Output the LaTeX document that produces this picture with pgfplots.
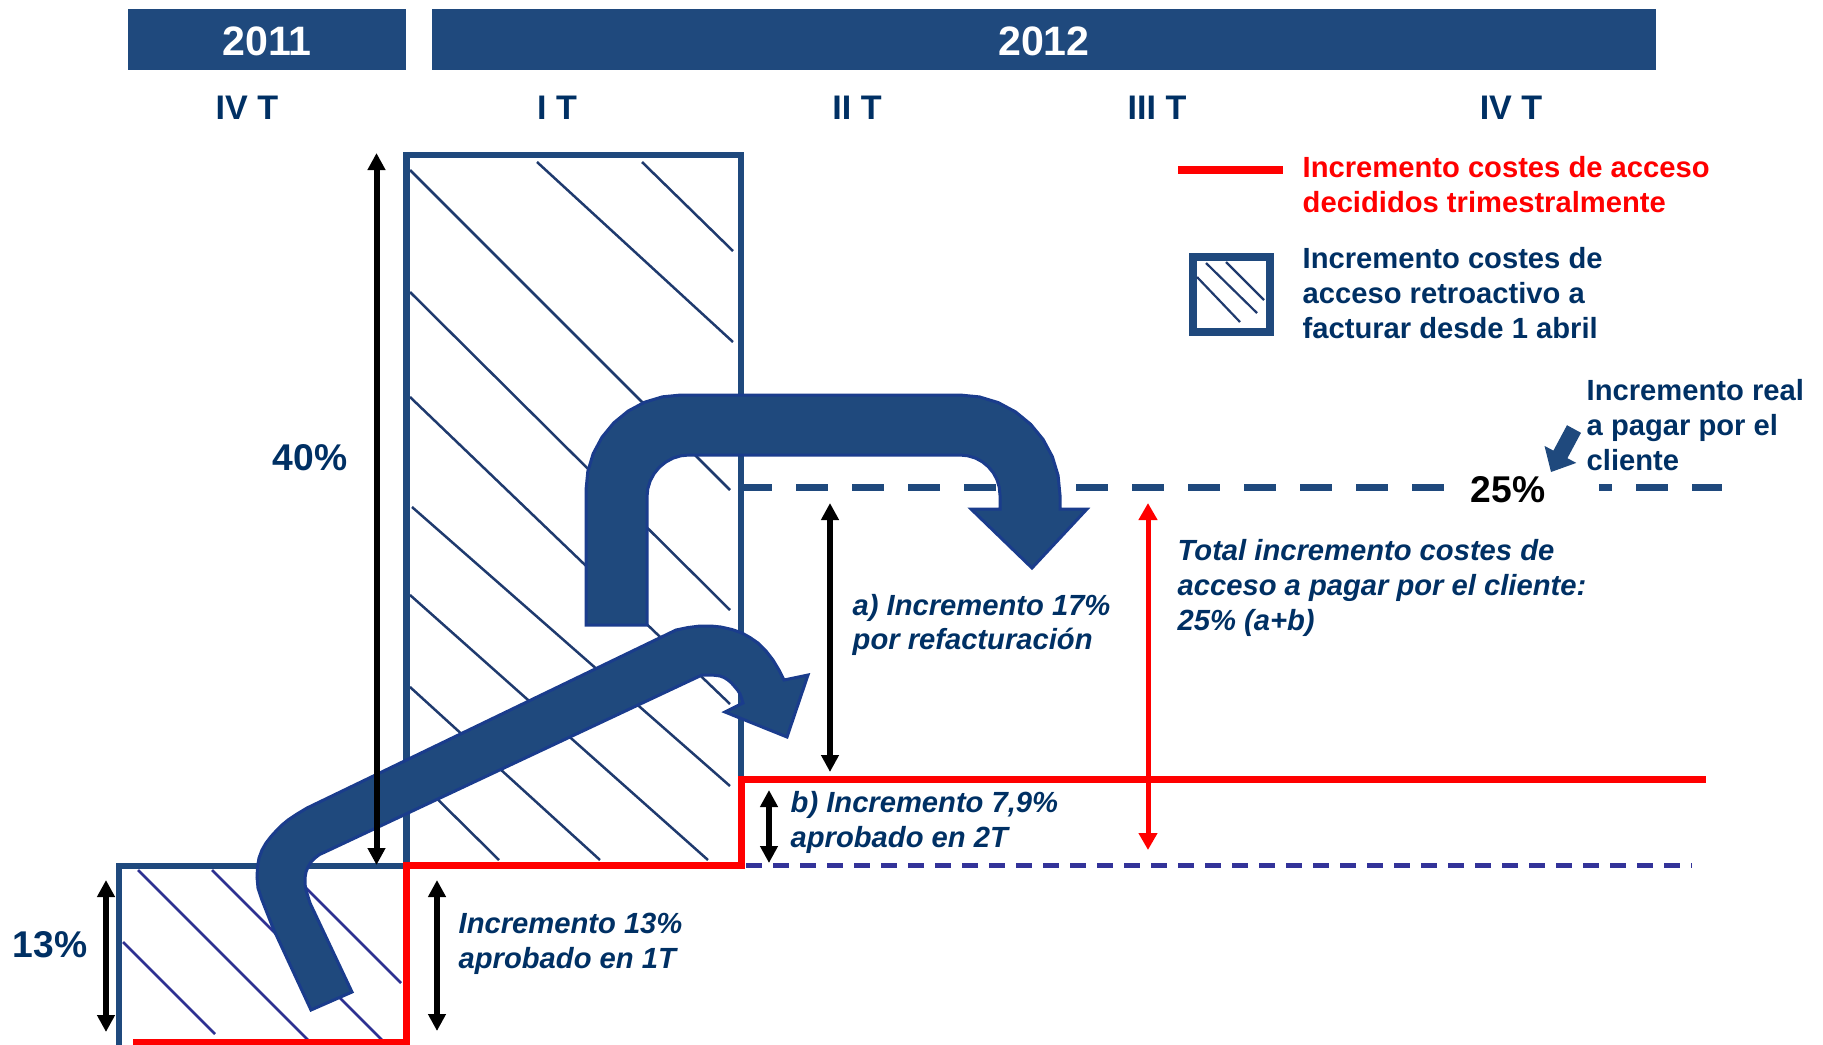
\documentclass[border=0pt]{standalone}
\usepackage{fontspec}
\setmainfont{Liberation Sans}
\usepackage{pgfplots}
\pgfplotsset{compat=1.18}
\usetikzlibrary{arrows.meta}
\definecolor{hdr}{RGB}{31,73,125}
\definecolor{navytxt}{RGB}{0,48,100}
\definecolor{hatch}{RGB}{31,58,110}
\definecolor{hatchb}{RGB}{46,49,146}
\definecolor{dotc}{RGB}{51,51,153}
\definecolor{aedge}{RGB}{26,60,140}
\newcommand\fA{\fontsize{8.3}{10}\selectfont\bfseries}
\newcommand\fAi{\fontsize{8.3}{10}\selectfont\bfseries\itshape}
\newcommand\fQ{\fontsize{9.7}{12}\selectfont\bfseries}
\newcommand\fH{\fontsize{11.7}{14}\selectfont\bfseries}
\newcommand\fP{\fontsize{10.6}{13}\selectfont\bfseries}
\newcommand\tx[4]{\node[anchor=base west,inner sep=0pt,#1] at (axis cs:#2,#3) {#4};}
\newcommand\tc[4]{\node[anchor=base,inner sep=0pt,#1] at (axis cs:#2,#3) {#4};}
\tikzset{dtip/.style={line width=0.6mm,{Triangle[length=1.7mm,width=1.7mm]}-{Triangle[length=1.7mm,width=1.7mm]}}}
\begin{document}
\begin{tikzpicture}
\begin{axis}[at={(0,0)},anchor=south west,scale only axis,width=182.3mm,height=104.4mm,
  xmin=0,xmax=1823,ymin=0,ymax=1044,y dir=reverse,hide axis,clip=true]
% header boxes
\addplot[fill=hdr,draw=none] coordinates {(128,9) (406,9) (406,70) (128,70)} -- cycle;
\addplot[fill=hdr,draw=none] coordinates {(432,9) (1656,9) (1656,70) (432,70)} -- cycle;
% hatching main box
\addplot[hatch,line width=0.25mm] coordinates {(642,162) (733,251)};
\addplot[hatch,line width=0.25mm] coordinates {(537,162) (733,342)};
\addplot[hatch,line width=0.25mm] coordinates {(410,170) (730,490)};
\addplot[hatch,line width=0.25mm] coordinates {(410,292) (730,610)};
\addplot[hatch,line width=0.25mm] coordinates {(410,397) (730,704)};
\addplot[hatch,line width=0.25mm] coordinates {(412,507) (730,786)};
\addplot[hatch,line width=0.25mm] coordinates {(410,595) (708,860)};
\addplot[hatch,line width=0.25mm] coordinates {(410,687) (600,860)};
\addplot[hatch,line width=0.25mm] coordinates {(410,772) (499,860)};
% hatching 2011 box
\addplot[hatchb,line width=0.25mm] coordinates {(288,870) (401,983)};
\addplot[hatchb,line width=0.25mm] coordinates {(212,870) (386,1044)};
\addplot[hatchb,line width=0.25mm] coordinates {(138,870) (313,1045)};
\addplot[hatchb,line width=0.25mm] coordinates {(123,942) (215,1034)};
% box outlines
\addplot[hdr,line width=0.65mm] coordinates {(119,1050) (119,866) (406,866)};
\addplot[hdr,line width=0.65mm,line join=miter] coordinates {(406.5,866) (406.5,155) (741,155) (741,780)};
% red step line
\addplot[red,line width=0.7mm,line join=miter] coordinates {(133,1042) (406.5,1042) (406.5,865) (741.5,865) (741.5,779.5) (1706,779.5)};
% dashed lines
\addplot[dotc,line width=0.5mm,dash pattern=on 1.6mm off 1.1mm] coordinates {(746,865) (1692,865)};
\addplot[hdr,line width=0.7mm,dash pattern=on 3.2mm off 2.4mm,dash phase=0.4mm] coordinates {(744,487) (1444,487)};
\addplot[hdr,line width=0.7mm] coordinates {(1599,487) (1612,487)};
\addplot[hdr,line width=0.7mm] coordinates {(1636,487) (1668,487)};
\addplot[hdr,line width=0.7mm] coordinates {(1692,487) (1722,487)};
% upper block arrow
\addplot[fill=hdr,draw=aedge,line width=0.3mm] coordinates {(586,625) (586,490) (587.8,471.5) (593.2,453.6) (602.0,437.2) (613.8,422.8) (628.2,411.0) (644.6,402.2) (662.5,396.8) (681,395)
 (960,395) (979.5,396.9) (998.3,402.6) (1015.6,411.9) (1030.7,424.3) (1043.1,439.4) (1052.4,456.7) (1058.1,475.5) (1060,495)
 (1060,509) (1087,509) (1032,568) (971,509) (1000,509)
 (1000,495) (999.2,487.2) (997.0,479.7) (993.3,472.8) (988.3,466.7) (982.2,461.7) (975.3,458.0) (967.8,455.8) (960,455)
 (689,455) (680.8,455.8) (672.9,458.2) (665.7,462.1) (659.3,467.3) (654.1,473.7) (650.2,480.9) (647.8,488.8) (647,497) (647,625)} -- cycle;
% lower block arrow
\addplot[fill=hdr,draw=aedge,line width=0.3mm] coordinates {(311,1010) (273,928) (262,900) (258,888) (257,877) (257.5,867) (259,858) (262,850) (266,843) (271,836.5) (276,831) (282,825) (288,820) (297,814) (307,808)
 (676,630) (688,627.5) (700,626) (711,626) (721,627) (732,629.5) (742,633) (750,637.5) (758,643) (766,651) (773,660) (779,670) (784,680)
 (808,675) (787,737) (725,712) (743,703) (741.5,698) (740,694) (737.5,690) (735,687) (731.5,683) (728,680) (724,677.5) (720,676) (715,675.3) (710,675) (702,675)
 (325,852) (319.5,854.5) (315,858) (311,862) (308,867) (306,872) (305,878) (305,884) (306,890) (310,903) (352,992)} -- cycle;
% small arrow
\addplot[fill=hdr,draw=none] coordinates {(1567,425.2) (1581,432.8) (1567.4,458.2) (1576.3,462.9) (1551,472) (1544.5,445.9) (1553.4,450.6)} -- cycle;
% double arrows
\addplot[black,dtip] coordinates {(376.5,153) (376.5,865)};
\addplot[black,dtip] coordinates {(106,880) (106,1032)};
\addplot[black,dtip] coordinates {(437,880) (437,1031)};
\addplot[black,dtip] coordinates {(830,503) (830,772)};
\addplot[black,dtip] coordinates {(769,790) (769,863)};
\addplot[red,line width=0.5mm,{Triangle[length=1.7mm,width=1.8mm]}-{Triangle[length=1.7mm,width=1.8mm]}] coordinates {(1148,503) (1148,850)};
% legend
\addplot[red,line width=0.8mm] coordinates {(1178,170) (1283,170)};
\addplot[hdr,line width=0.8mm,line join=miter] coordinates {(1193,257) (1270,257) (1270,332) (1193,332)} -- cycle;
\addplot[hatch,line width=0.22mm] coordinates {(1206,263) (1257,313)};
\addplot[hatch,line width=0.22mm] coordinates {(1226,262) (1264,300)};
\addplot[hatch,line width=0.22mm] coordinates {(1197,277) (1240,322)};
% texts
\tc{text=white,font=\fH}{267}{55}{2011}
\tc{text=white,font=\fH}{1044}{55}{2012}
\tc{text=navytxt,font=\fQ}{247}{119}{IV T}
\tc{text=navytxt,font=\fQ}{557}{119}{I T}
\tc{text=navytxt,font=\fQ}{857}{119}{II T}
\tc{text=navytxt,font=\fQ}{1157}{119}{III T}
\tc{text=navytxt,font=\fQ}{1511}{119}{IV T}
\tx{text=red,font=\fA}{1302}{177}{Incremento costes de acceso}
\tx{text=red,font=\fA}{1302}{212}{decididos trimestralmente}
\tx{text=navytxt,font=\fA}{1302}{268}{Incremento costes de}
\tx{text=navytxt,font=\fA}{1302}{303}{acceso retroactivo a}
\tx{text=navytxt,font=\fA}{1302}{338}{facturar desde 1 abril}
\tx{text=navytxt,font=\fA}{1586}{400}{Incremento real}
\tx{text=navytxt,font=\fA}{1586}{435}{a pagar por el}
\tx{text=navytxt,font=\fA}{1586}{470}{cliente}
\tx{text=black,font=\fP}{1470}{502}{25\%}
\tc{text=navytxt,font=\fP}{310}{470}{40\%}
\tc{text=navytxt,font=\fP}{50}{957}{13\%}
\tx{text=navytxt,font=\fAi}{458}{933}{Incremento 13\%}
\tx{text=navytxt,font=\fAi}{458}{968}{aprobado en 1T}
\tx{text=navytxt,font=\fAi}{852}{615}{a) Incremento 17\%}
\tx{text=navytxt,font=\fAi}{852}{649}{por refacturación}
\tx{text=navytxt,font=\fAi}{790}{812}{b) Incremento 7,9\%}
\tx{text=navytxt,font=\fAi}{790}{847}{aprobado en 2T}
\tx{text=navytxt,font=\fAi}{1177}{560}{Total incremento costes de}
\tx{text=navytxt,font=\fAi}{1177}{595}{acceso a pagar por el cliente:}
\tx{text=navytxt,font=\fAi}{1177}{630}{25\% (a+b)}
\end{axis}
\pgfresetboundingbox
\useasboundingbox (0,0) rectangle (182.3mm,104.4mm);
\end{tikzpicture}
\end{document}
